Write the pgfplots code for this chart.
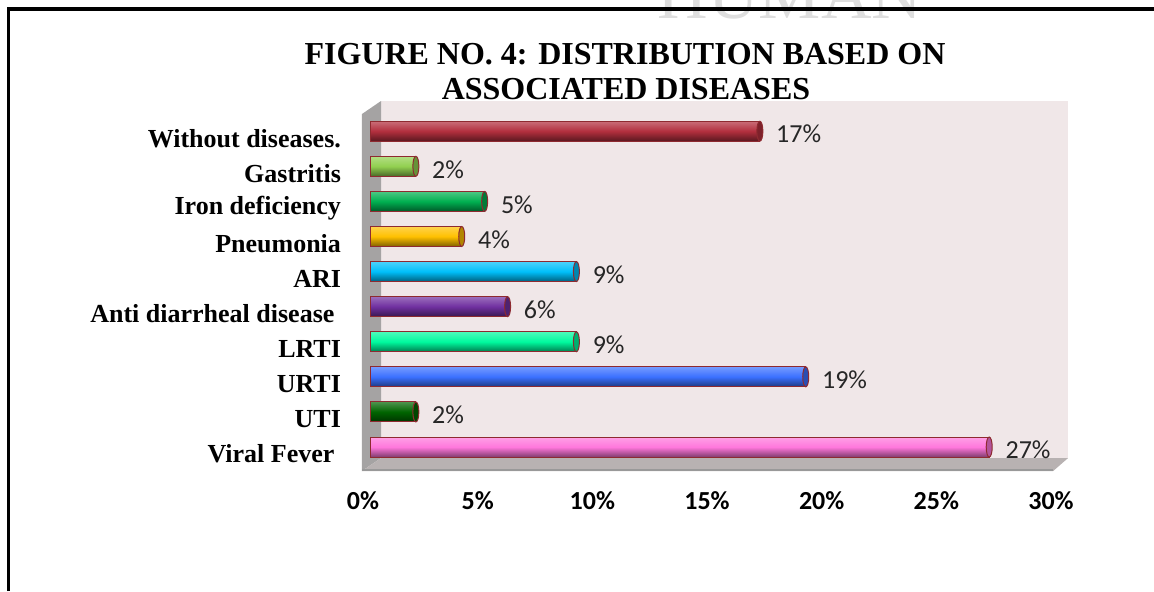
\documentclass[border=0pt]{standalone}
\usepackage{fontspec}
\setmainfont{Liberation Serif}
\newfontfamily\calfont{Carlito}
\usepackage{pgfplots}
\pgfplotsset{compat=1.18}
\definecolor{withoutC}{HTML}{B22F3E}
\definecolor{gastC}{HTML}{92D050}
\definecolor{ironC}{HTML}{00B050}
\definecolor{pneuC}{HTML}{FFC000}
\definecolor{ariC}{HTML}{00BFFA}
\definecolor{antiC}{HTML}{7030A0}
\definecolor{lrtiC}{HTML}{00FA9E}
\definecolor{urtiC}{HTML}{3A70FF}
\definecolor{utiC}{HTML}{006400}
\definecolor{viralC}{HTML}{FF78DC}
\definecolor{outlC}{HTML}{8E2A30}
\definecolor{wallC}{HTML}{F0E7E8}
\definecolor{sideC}{HTML}{A5A3A3}
\definecolor{floorC}{HTML}{B8B2B2}
\begin{document}
\begin{tikzpicture}
\path[use as bounding box] (0,0) rectangle (577pt,295.5pt);
\begin{scope}
\clip (0,0) rectangle (577pt,295.5pt);
\node[text=black!13, font=\fontsize{35pt}{35pt}\selectfont, anchor=base] at (395pt,286.5pt) {HUMAN};
\end{scope}
\draw[line width=1.75pt] (4.25pt,0) -- (4.25pt,291pt) -- (577pt,291pt);
\node[font=\fontsize{16pt}{16pt}\selectfont\bfseries, anchor=base] at (312.5pt,263.5pt) {FIGURE NO. 4: DISTRIBUTION BASED ON};
\node[font=\fontsize{16pt}{16pt}\selectfont\bfseries, anchor=base] at (313pt,246pt) {ASSOCIATED DISEASES};
\begin{axis}[
  at={(185pt,66.5pt)}, anchor=south west,
  scale only axis, width=344pt, height=178.5pt,
  xmin=0, xmax=30, ymin=-0.313, ymax=9.86,
  clip=false,
  /pgf/number format/assume math mode=true,
  axis line style={draw=none}, major tick length=0pt,
  xtick={0,5,...,30},
  xticklabels={0\%,5\%,10\%,15\%,20\%,25\%,30\%},
  ytick={0,...,9},
  yticklabels={Viral Fever\kern0.25em, UTI, URTI, LRTI, Anti diarrheal disease\kern0.25em, ARI, Pneumonia, Iron deficiency, Gastritis, Without diseases.},
  xticklabel style={font=\calfont\fontsize{13pt}{13pt}\selectfont\bfseries, xshift=-3.5pt, yshift=-13pt},
  yticklabel style={font=\fontsize{13pt}{13pt}\selectfont\bfseries, xshift=-11pt, yshift=-3.5pt},
  cyl/.style={xbar, bar width=10pt, bar shift=0pt, draw=outlC, line width=0.5pt,
    top color=#1!70!white, bottom color=#1!50!black, middle color=#1},
  cap/.style={only marks, mark=*, mark size=5pt,
    mark options={xscale=0.3, fill=#1!70!black, draw=outlC, line width=0.5pt},
    point meta=x,
    nodes near coords={\pgfmathprintnumber{\pgfplotspointmeta}\%},
    every node near coord/.append style={anchor=west, xshift=4.6pt, yshift=-1.5pt,
      text=black!85, font=\calfont\fontsize{13pt}{13pt}\selectfont}},
]
\fill[wallC] (axis cs:0.48,-0.313) rectangle (axis cs:30.44,9.86);
\fill[sideC] (axis cs:-0.35,9.49) -- (axis cs:0.48,9.86) -- (axis cs:0.48,-0.313) -- (axis cs:-0.35,-0.684) -- cycle;
\fill[floorC] (axis cs:0.48,-0.313) -- (axis cs:30.44,-0.313) -- (axis cs:29.79,-0.684) -- (axis cs:-0.35,-0.684) -- cycle;
\draw[black!40, line width=1pt] (axis cs:-0.35,-0.66) -- (axis cs:29.79,-0.66);
\addplot[cyl=viralC] coordinates {(27,0)};
\addplot[cap=viralC] coordinates {(27,0)};
\addplot[cyl=utiC] coordinates {(2,1)};
\addplot[cap=utiC] coordinates {(2,1)};
\addplot[cyl=urtiC] coordinates {(19,2)};
\addplot[cap=urtiC] coordinates {(19,2)};
\addplot[cyl=lrtiC] coordinates {(9,3)};
\addplot[cap=lrtiC] coordinates {(9,3)};
\addplot[cyl=antiC] coordinates {(6,4)};
\addplot[cap=antiC] coordinates {(6,4)};
\addplot[cyl=ariC] coordinates {(9,5)};
\addplot[cap=ariC] coordinates {(9,5)};
\addplot[cyl=pneuC] coordinates {(4,6)};
\addplot[cap=pneuC] coordinates {(4,6)};
\addplot[cyl=ironC] coordinates {(5,7)};
\addplot[cap=ironC] coordinates {(5,7)};
\addplot[cyl=gastC] coordinates {(2,8)};
\addplot[cap=gastC] coordinates {(2,8)};
\addplot[cyl=withoutC] coordinates {(17,9)};
\addplot[cap=withoutC] coordinates {(17,9)};
\end{axis}
\end{tikzpicture}
\end{document}
